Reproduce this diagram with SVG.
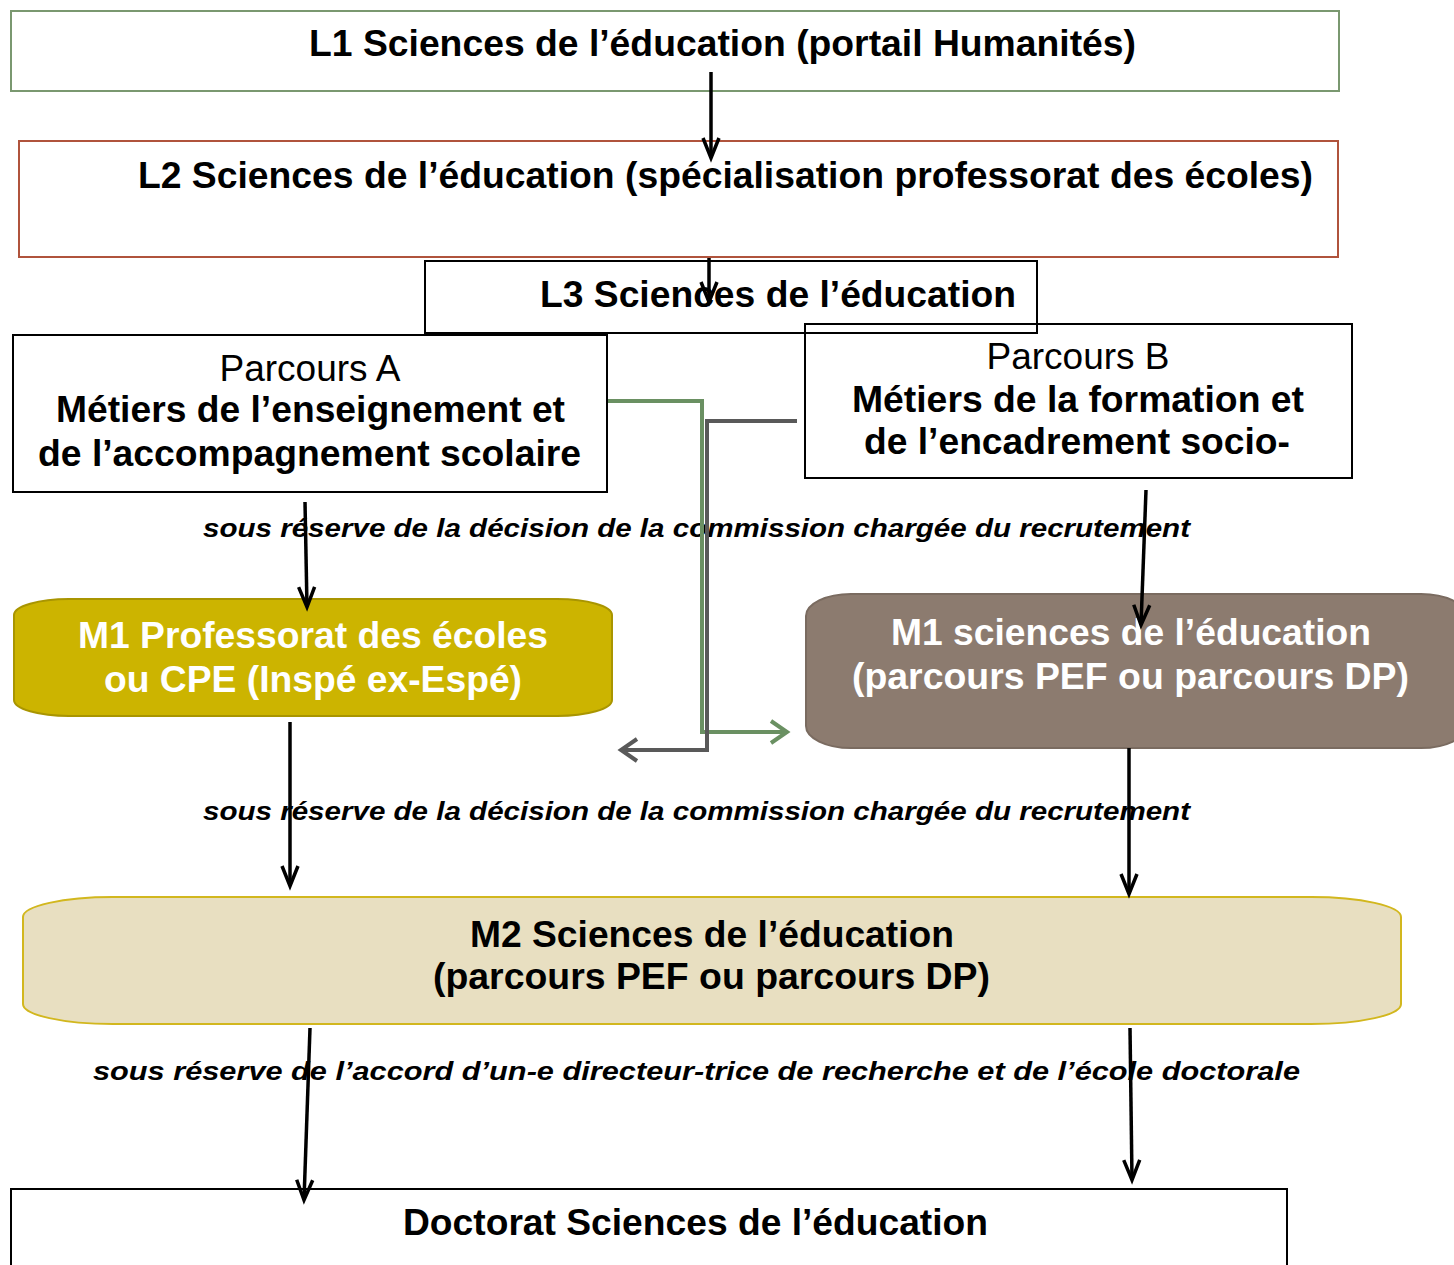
<svg xmlns="http://www.w3.org/2000/svg" width="1454" height="1265" viewBox="0 0 1454 1265">
<style>
  .box { fill: none; stroke: #000; stroke-width: 2; }
  .t { font-family: "Liberation Sans", Arial, sans-serif; font-size: 37px; fill: #000; }
  .b { font-weight: bold; }
  .w { fill: #fff; }
  .it { font-family: "Liberation Sans", Arial, sans-serif; font-size: 26px; font-style: italic; font-weight: bold; fill: #000; }
  .arr { stroke: #000; stroke-width: 3.5; fill: none; marker-end: url(#ah); }
</style>
<defs>
  <marker id="ah" markerUnits="userSpaceOnUse" markerWidth="40" markerHeight="40" viewBox="-25 -20 40 40" refX="0" refY="0" orient="auto" overflow="visible">
    <path d="M-20,-8 L0,0 L-20,8" fill="none" stroke="#000" stroke-width="3.5"/>
  </marker>
  <marker id="ahg" markerUnits="userSpaceOnUse" markerWidth="40" markerHeight="40" viewBox="-25 -20 40 40" refX="0" refY="0" orient="auto" overflow="visible">
    <path d="M-16,-11 L0,0 L-16,11" fill="none" stroke="#6a9062" stroke-width="4"/>
  </marker>
  <marker id="ahd" markerUnits="userSpaceOnUse" markerWidth="40" markerHeight="40" viewBox="-25 -20 40 40" refX="0" refY="0" orient="auto" overflow="visible">
    <path d="M-16,-11 L0,0 L-16,11" fill="none" stroke="#595959" stroke-width="4"/>
  </marker>
</defs>
<rect width="1454" height="1265" fill="#fff"/>

<g id="L1">
  <rect x="11" y="11" width="1328" height="80" fill="none" stroke="#7a9870" stroke-width="2"/>
  <text class="t b" x="309" y="56" textLength="827" lengthAdjust="spacingAndGlyphs">L1 Sciences de l’éducation (portail Humanités)</text>
</g>
<g id="L2">
  <rect x="19" y="141" width="1319" height="116" fill="none" stroke="#b0533c" stroke-width="2"/>
  <text class="t b" x="138" y="188" textLength="1175" lengthAdjust="spacingAndGlyphs">L2 Sciences de l’éducation (spécialisation professorat des écoles)</text>
</g>
<g id="L3">
  <rect class="box" x="425" y="261" width="612" height="72"/>
  <text class="t b" x="540" y="307" textLength="476" lengthAdjust="spacingAndGlyphs">L3 Sciences de l’éducation</text>
</g>
<g id="parcoursA">
  <rect class="box" x="13" y="335" width="594" height="157"/>
  <text class="t" x="310" y="381" text-anchor="middle">Parcours A</text>
  <text class="t b" x="56" y="422" textLength="509" lengthAdjust="spacingAndGlyphs">Métiers de l’enseignement et</text>
  <text class="t b" x="38" y="466" textLength="543" lengthAdjust="spacingAndGlyphs">de l’accompagnement scolaire</text>
</g>
<g id="parcoursB">
  <rect class="box" x="805" y="324" width="547" height="154"/>
  <text class="t" x="1078" y="369" text-anchor="middle">Parcours B</text>
  <text class="t b" x="852" y="412" textLength="452" lengthAdjust="spacingAndGlyphs">Métiers de la formation et</text>
  <text class="t b" x="864" y="454" textLength="426" lengthAdjust="spacingAndGlyphs">de l’encadrement socio-</text>
</g>
<g id="M1PE">
  <rect x="14" y="599" width="598" height="117" rx="55" ry="16" fill="#ccb400" stroke="#a99500" stroke-width="2"/>
  <text class="t b w" x="78" y="648" textLength="470" lengthAdjust="spacingAndGlyphs">M1 Professorat des écoles</text>
  <text class="t b w" x="104" y="692" textLength="418" lengthAdjust="spacingAndGlyphs">ou CPE (Inspé ex-Espé)</text>
</g>
<g id="M1SE">
  <rect x="806" y="594" width="660" height="154" rx="45" ry="22" fill="#8c7b6f" stroke="#7a6b60" stroke-width="2"/>
  <text class="t b w" x="891" y="645" textLength="480" lengthAdjust="spacingAndGlyphs">M1 sciences de l’éducation</text>
  <text class="t b w" x="852" y="689" textLength="557" lengthAdjust="spacingAndGlyphs">(parcours PEF ou parcours DP)</text>
</g>
<g id="M2">
  <rect x="23" y="897" width="1378" height="127" rx="90" ry="20" fill="#e8dfc1" stroke="#d2b71e" stroke-width="2"/>
  <text class="t b" x="470" y="947" textLength="484" lengthAdjust="spacingAndGlyphs">M2 Sciences de l’éducation</text>
  <text class="t b" x="433" y="989" textLength="557" lengthAdjust="spacingAndGlyphs">(parcours PEF ou parcours DP)</text>
</g>
<g id="doctorat">
  <rect class="box" x="11" y="1189" width="1276" height="90"/>
  <text class="t b" x="403" y="1235" textLength="585" lengthAdjust="spacingAndGlyphs">Doctorat Sciences de l’éducation</text>
</g>

<g id="labels">
  <text class="it" x="203" y="537" textLength="987" lengthAdjust="spacingAndGlyphs">sous réserve de la décision de la commission chargée du recrutement</text>
  <text class="it" x="203" y="820" textLength="987" lengthAdjust="spacingAndGlyphs">sous réserve de la décision de la commission chargée du recrutement</text>
  <text class="it" x="93" y="1080" textLength="1207" lengthAdjust="spacingAndGlyphs">sous réserve de l’accord d’un-e directeur-trice de recherche et de l’école doctorale</text>
</g>

<g id="connectors">
  <line class="arr" x1="711" y1="72" x2="711" y2="158"/>
  <line class="arr" x1="709" y1="258" x2="709" y2="302"/>
  <line class="arr" x1="305" y1="502" x2="307" y2="607"/>
  <line class="arr" x1="1146" y1="490" x2="1141" y2="625"/>
  <line class="arr" x1="290" y1="722" x2="290" y2="886"/>
  <line class="arr" x1="1129" y1="748" x2="1129" y2="894"/>
  <line class="arr" x1="310" y1="1028" x2="304" y2="1200"/>
  <line class="arr" x1="1130" y1="1028" x2="1132" y2="1180"/>
  <polyline points="608,401 702,401 702,732 787,732" fill="none" stroke="#6a9062" stroke-width="4" marker-end="url(#ahg)"/>
  <polyline points="797,421 707,421 707,750 621,750" fill="none" stroke="#595959" stroke-width="4" marker-end="url(#ahd)"/>
</g>
</svg>
